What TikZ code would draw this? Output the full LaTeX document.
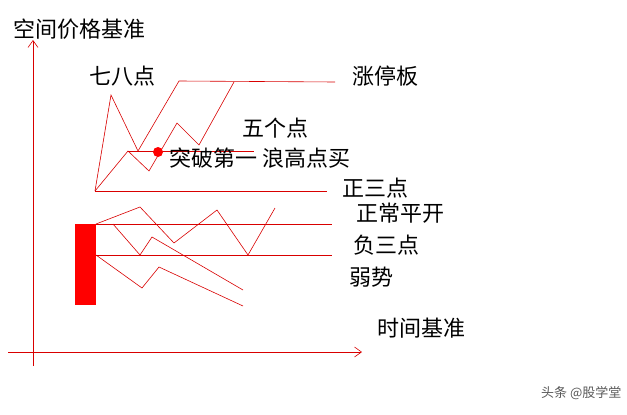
\documentclass[tikz,border=0pt]{standalone}
\usepackage{fontspec}
\newfontfamily\cjk{Noto Sans CJK SC}
\usetikzlibrary{arrows.meta}
\begin{document}
\begin{tikzpicture}[x=1pt,y=-1pt,
  ln/.style={draw=red!85!black,line width=0.6pt},
  ax/.style={draw=red!85!black,line width=0.6pt,-{Straight Barb[length=7pt,width=10pt]}},
  lbl/.style={font=\cjk\fontsize{22}{22}\selectfont,inner sep=0pt,anchor=west}]
\useasboundingbox (0,0) rectangle (627,415);
\fill[white] (0,0) rectangle (627,415);
% axes
\coordinate (yb) at (33,366); \coordinate (yt) at (33,40);
\coordinate (xl) at (8,352); \coordinate (xr) at (362,352);
\draw[ax] (yb) -- (yt);
\draw[ax] (xl) -- (xr);
\node[lbl] (ylab) at (13,29) {空间价格基准};
\node[lbl] (xlab) at (377,328) {时间基准};
% upper
\coordinate (o) at (95,191);
\draw[ln] (o) -- (327,191);
\draw[ln] (o) -- (111,95) -- (138,151) -- (179,81) -- (335,82);
\draw[ln] (o) -- (128,151) -- (149,171) -- (177,123) -- (199,145) -- (234,82);
\draw[ln] (128,151) -- (254,151);
\node[circle,fill=red,inner sep=0pt,minimum size=10pt] (dot) at (158,152) {};
% lower
\node[fill=red,minimum width=21pt,minimum height=81pt,inner sep=0pt] (bar) at (85.5,264.5) {};
\draw[ln] (96,224) -- (332,224);
\draw[ln] (96,255) -- (332,255);
\draw[ln] (96,224) -- (140,207) -- (174,243) -- (217,210) -- (248,255) -- (275,208);
\draw[ln] (113,224) -- (140,255) -- (152,237) -- (243,290);
\draw[ln] (96,255) -- (142,288) -- (159,267) -- (243,306);
% labels
\node[lbl] (a) at (89,76) {七八点};
\node[lbl] (b) at (352,76) {涨停板};
\node[lbl] (c) at (242,128) {五个点};
\node[lbl] (d) at (169,158) {突破第一 浪高点买};
\node[lbl] (e) at (342,188) {正三点};
\node[lbl] (f) at (356,213) {正常平开};
\node[lbl] (g) at (353,245) {负三点};
\node[lbl] (h) at (349,277) {弱势};
\node[font=\cjk\fontsize{13}{13}\selectfont,text=gray!70!black,inner sep=0pt,anchor=west] (w) at (541,393) {头条 @股学堂};
\end{tikzpicture}
\end{document}
